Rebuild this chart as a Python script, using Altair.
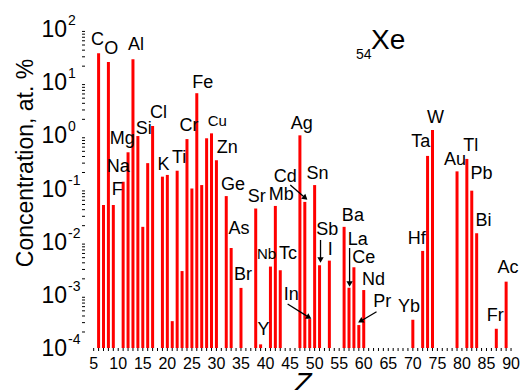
import math
import altair as alt
import pandas as pd

# ---------------- data ----------------
Z = [6, 7, 8, 9, 11, 12, 13, 14, 15, 16, 17, 19, 20, 21, 22, 23, 24, 25, 26, 27, 28, 29, 30,
     32, 33, 35, 38, 39, 41, 42, 43, 47, 48, 49, 50, 51, 53, 56, 57, 58, 59, 60,
     70, 72, 73, 74, 79, 81, 82, 83, 87, 89]
symbols = ["C", "N", "O", "F", "Na", "Mg", "Al", "Si", "P", "S", "Cl", "K", "Ca", "Sc", "Ti", "V",
           "Cr", "Mn", "Fe", "Co", "Ni", "Cu", "Zn", "Ge", "As", "Br", "Sr", "Y", "Nb", "Mb", "Tc",
           "Ag", "Cd", "In", "Sn", "Sb", "I", "Ba", "La", "Ce", "Pr", "Nd",
           "Yb", "Hf", "Ta", "W", "Au", "Tl", "Pb", "Bi", "Fr", "Ac"]
conc = [35, 0.049, 24, 0.049, 0.134, 0.48, 27, 0.97, 0.019, 0.30, 1.5, 0.167, 0.18, 3.2e-4,
        0.216, 2.8e-3, 0.85, 0.10, 6.2, 0.116, 0.88, 1.09, 0.34,
        0.072, 7.6e-3, 1.35e-3, 0.042, 1.17e-4, 3.4e-3, 0.047, 2.9e-3,
        1.0, 0.056, 3.5e-4, 0.116, 3.6e-3, 4.4e-3, 0.019, 1.36e-3, 3.3e-3, 2.7e-4, 1.23e-3,
        3.4e-4, 6.7e-3, 0.41, 1.26, 0.21, 0.36, 0.091, 0.0144, 2.3e-4, 1.77e-3]

# labelled elements -> label offset from bar top (px: dx right, dy down) and font size
label_layout = {
    "C": (-1, -13, 18), "O": (3, -13, 18), "Al": (3, -14, 18), "Mg": (-6, -13, 18),
    "Si": (6, -7, 18), "Cl": (6, -13, 18), "Na": (-5, -15, 18), "F": (4, -15, 18),
    "K": (1, -12, 18), "Ti": (2, -13, 18), "Cr": (2, -13, 18), "Fe": (6, -10, 18),
    "Cu": (6, -12, 15), "Zn": (11, -12, 18), "Ge": (7, -11, 18), "As": (8, -19, 18),
    "Br": (2, -13, 18), "Sr": (1, -12, 18), "Y": (3, -14, 18), "Nb": (-4, -13, 15),
    "Mb": (6, -11, 18), "Tc": (8, -16, 18), "Ag": (2, -11, 18), "Cd": (-20, -25, 18),
    "In": (-19, -24, 18), "Sn": (3, -11, 18), "Sb": (8, -35, 18), "I": (1, -11, 18),
    "Ba": (9, -11, 18), "La": (9, -48, 18), "Ce": (10, -9, 18), "Nd": (10, -10, 18),
    "Pr": (24, -23, 18), "Yb": (-4, -13, 18), "Hf": (-6, -12, 18), "Ta": (-7, -14, 18),
    "W": (3, -12, 18), "Au": (-2, -11, 18), "Tl": (4, -13, 18), "Pb": (10, -17, 18),
    "Bi": (7, -12, 18), "Fr": (-1, -13, 18), "Ac": (2, -14, 18),
}

# arrows (tail -> tip) in data units (Z, log10 concentration)
arrow_from_z = [45.04, 44.5, 51.2, 57.12, 62.61]
arrow_from_log = [-0.934, -3.172, -1.968, -2.119, -3.317]
arrow_to_z = [48.56, 49.36, 51.2, 57.12, 58.83]
arrow_to_log = [-1.216, -3.454, -2.401, -2.852, -3.524]

x_ticks = list(range(5, 91, 5))
decades = [-4, -3, -2, -1, 0, 1, 2]

# ---------------- layout ----------------
W, H = 433, 319
ZMIN, ZMAX = 4.25, 90.4
PXZ = W / (ZMAX - ZMIN)
PXD = H / 6.0
FONT = "Liberation Sans, Arial, sans-serif"

xs = alt.Scale(domain=[ZMIN, ZMAX], nice=False, zero=False)
ys = alt.Scale(type="log", domain=[1e-4, 100], nice=False)

bars = pd.DataFrame({"Z": Z, "sym": symbols, "c": conc})
bars["base"] = 1e-4

lab_rows = []
for z, s, c in zip(Z, symbols, conc):
    if s in label_layout:
        dx, dy, fs = label_layout[s]
        lab_rows.append({"sym": s, "lz": z + dx / PXZ, "lc": c * 10 ** (-dy / PXD), "fs": fs})
labels = pd.DataFrame(lab_rows)

ar_rows, head_rows = [], []
for z0, l0, z1, l1 in zip(arrow_from_z, arrow_from_log, arrow_to_z, arrow_to_log):
    dxp = (z1 - z0) * PXZ
    dyp = -(l1 - l0) * PXD
    ln = math.hypot(dxp, dyp)
    ux, uy = dxp / ln, dyp / ln
    back = 3.0
    zc = z1 - back * ux / PXZ
    lc = l1 + back * uy / PXD
    ang = math.degrees(math.atan2(dxp, -dyp)) % 360
    ar_rows.append({"z0": z0, "c0": 10 ** l0, "z1": zc, "c1": 10 ** lc})
    head_rows.append({"z": zc, "c": 10 ** lc, "ang": ang})
arrows = pd.DataFrame(ar_rows)
heads = pd.DataFrame(head_rows)

dec_df = pd.DataFrame({"v": [10.0 ** k for k in decades],
                       "base": ["10"] * len(decades),
                       "exp": [str(k) for k in decades]})
xt_df = pd.DataFrame({"z": x_ticks, "t": [str(t) for t in x_ticks]})
minor_y = pd.DataFrame({"v": [m * 10.0 ** k for k in range(-4, 2) for m in range(2, 10)]})
minor_x = pd.DataFrame({"z": [z for z in range(5, 91)]})

# ---------------- layers ----------------
bar_layer = alt.Chart(bars).mark_bar(size=3, color="#ff0000").encode(
    x=alt.X("Z:Q", scale=xs,
            axis=alt.Axis(values=x_ticks, tickSize=6, labels=False, title=None,
                          domainColor="black", tickColor="black", grid=False)),
    y=alt.Y("c:Q", scale=ys,
            axis=alt.Axis(values=[10.0 ** k for k in decades], labels=False, tickSize=6,
                          domainColor="black", tickColor="black", grid=False, title=None)),
    y2="base:Q",
)

label_layer = alt.Chart(labels).mark_text(font=FONT, color="black", align="center",
                                          baseline="middle").encode(
    x=alt.X("lz:Q", scale=xs, axis=None),
    y=alt.Y("lc:Q", scale=ys, axis=None),
    text="sym:N",
    size=alt.Size("fs:Q", scale=None),
)

arrow_layer = alt.Chart(arrows).mark_rule(color="black", strokeWidth=1.3).encode(
    x=alt.X("z0:Q", scale=xs, axis=None),
    y=alt.Y("c0:Q", scale=ys, axis=None),
    x2="z1:Q", y2="c1:Q",
)

head_layer = alt.Chart(heads).mark_point(shape="triangle-up", filled=True, color="black",
                                         size=40, opacity=1).encode(
    x=alt.X("z:Q", scale=xs, axis=None),
    y=alt.Y("c:Q", scale=ys, axis=None),
    angle=alt.Angle("ang:Q", scale=None),
)

ylab10 = alt.Chart(dec_df).mark_text(font=FONT, fontSize=23, color="black", align="right",
                                     baseline="middle", dy=1).encode(
    x=alt.value(-18),
    y=alt.Y("v:Q", scale=ys, axis=None),
    text="base:N",
)
ylabexp = alt.Chart(dec_df).mark_text(font=FONT, fontSize=14, color="black", align="left",
                                      baseline="alphabetic", dy=-4).encode(
    x=alt.value(-17),
    y=alt.Y("v:Q", scale=ys, axis=None),
    text="exp:N",
)
xlab = alt.Chart(xt_df).mark_text(font=FONT, fontSize=16, color="black", align="center",
                                  baseline="middle").encode(
    x=alt.X("z:Q", scale=xs, axis=None),
    y=alt.value(H + 16),
    text="t:N",
)

minor_y_layer = alt.Chart(minor_y).mark_rule(color="black", strokeWidth=1).encode(
    y=alt.Y("v:Q", scale=ys, axis=None),
    x=alt.value(0), x2=alt.value(-3),
)
minor_x_layer = alt.Chart(minor_x).mark_rule(color="black", strokeWidth=1).encode(
    x=alt.X("z:Q", scale=xs, axis=None),
    y=alt.value(H), y2=alt.value(H + 3),
)

ztitle = alt.Chart(pd.DataFrame({"t": ["Z"]})).mark_text(
    font=FONT, fontSize=28, fontStyle="italic", color="black", align="center",
    baseline="alphabetic").encode(x=alt.value(218), y=alt.value(H + 44), text="t:N")
ytitle = alt.Chart(pd.DataFrame({"t": ["Concentration, at. %"]})).mark_text(
    font=FONT, fontSize=23, color="black", align="center", baseline="alphabetic",
    angle=270).encode(x=alt.value(-52), y=alt.value(134), text="t:N")

xe_layer = alt.Chart(pd.DataFrame({"t": ["Xe"]})).mark_text(
    font=FONT, fontSize=28, color="black", align="left", baseline="alphabetic").encode(
    x=alt.value(286), y=alt.value(20), text="t:N")
sub_layer = alt.Chart(pd.DataFrame({"t": ["54"]})).mark_text(
    font=FONT, fontSize=14, color="black", align="left", baseline="alphabetic").encode(
    x=alt.value(271), y=alt.value(30), text="t:N")

chart = alt.layer(bar_layer, minor_x_layer, minor_y_layer, label_layer, arrow_layer, head_layer,
                  ylab10, ylabexp, xlab, ztitle, ytitle, xe_layer, sub_layer).properties(
    width=W, height=H,
    autosize=alt.AutoSizeParams(type="none"),
    padding={"left": 85, "top": 29, "right": 5, "bottom": 42},
    background="white",
).configure_view(stroke=None)

chart.save("out.html", embed_options={"renderer": "svg", "actions": False})
